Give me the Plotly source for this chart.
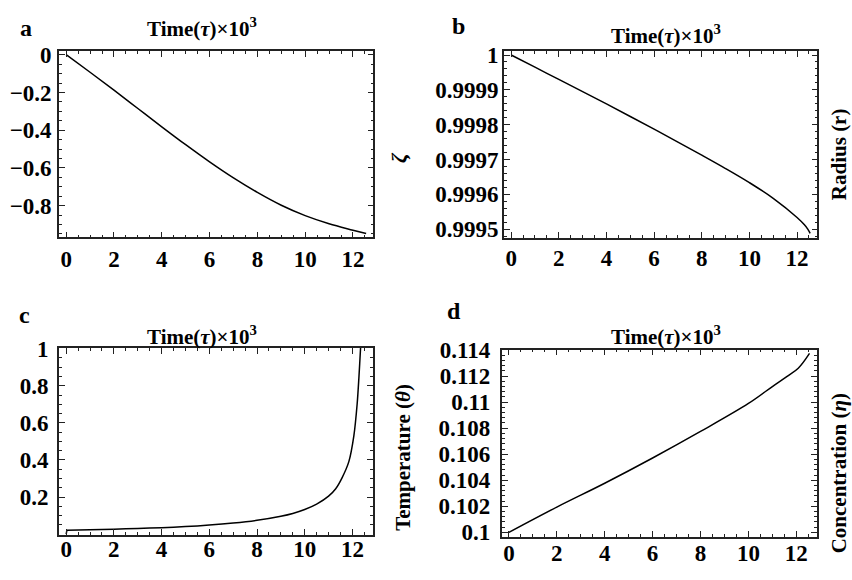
import plotly.graph_objects as go

# ---------------- data ----------------
t_a = [0, 1, 2, 3, 4, 5, 6, 7, 8, 9, 10, 11, 12, 12.55]
zeta = [0.0, -0.093, -0.188, -0.285, -0.382, -0.477, -0.568, -0.653,
        -0.730, -0.798, -0.853, -0.896, -0.930, -0.948]

t_b = [0, 1, 2, 3, 4, 5, 6, 7, 8, 9, 10, 11, 12, 12.3, 12.45, 12.55]
radius = [1.0, 0.999965, 0.99993, 0.999895, 0.9998595, 0.9998235, 0.999787,
          0.99975, 0.9997125, 0.999674, 0.9996335, 0.9995885, 0.9995335,
          0.999513, 0.9995, 0.999488]

t_c = [0, 0.03, 1, 2, 3, 4, 5, 6, 7, 8, 9, 9.5, 10, 10.5, 11, 11.3, 11.57,
       11.85, 12.06, 12.2, 12.27, 12.34, 12.38]
temperature = [0.0, 0.021, 0.024, 0.027, 0.031, 0.035, 0.041, 0.049, 0.060,
               0.075, 0.097, 0.112, 0.133, 0.162, 0.205, 0.245, 0.305, 0.391,
               0.53, 0.704, 0.84, 1.0, 1.1]

t_d = [0, 2, 4, 6, 8, 10, 11, 11.6, 12.08, 12.55]
concentration = [0.1, 0.10194, 0.10377, 0.10571, 0.10775, 0.10990, 0.1112,
                 0.11196, 0.1126, 0.11374]

x_ticks = [0, 2, 4, 6, 8, 10, 12]
a_ticks = [0, -0.2, -0.4, -0.6, -0.8]
a_text = ["0", "\u22120.2", "\u22120.4", "\u22120.6", "\u22120.8"]
b_ticks = [1.0, 0.9999, 0.9998, 0.9997, 0.9996, 0.9995]
b_text = ["1", "0.9999", "0.9998", "0.9997", "0.9996", "0.9995"]
c_ticks = [0.2, 0.4, 0.6, 0.8, 1.0]
c_text = ["0.2", "0.4", "0.6", "0.8", "1"]
d_ticks = [0.1, 0.102, 0.104, 0.106, 0.108, 0.11, 0.112, 0.114]
d_text = ["0.1", "0.102", "0.104", "0.106", "0.108", "0.11", "0.112", "0.114"]

title_text = "Time(<i>\u03c4</i>)\u00d710<sup>3</sup>"

W, H = 852, 580
FONT = "Liberation Serif"
FRAME = "#222222"
TICKSIZE = 23


def px(x):
    return x / W


def py(y):
    return 1 - y / H


def xaxis(dom, anchor, standoff):
    return dict(
        domain=[px(dom[0]), px(dom[1])], anchor=anchor,
        range=[-0.3, 12.85], tickmode="array", tickvals=x_ticks,
        ticktext=[str(v) for v in x_ticks],
        showline=True, linecolor=FRAME, linewidth=1.6, mirror="allticks",
        ticks="inside", ticklen=6, tickwidth=1.3, tickcolor=FRAME,
        minor=dict(tickmode="linear", tick0=0, dtick=0.5, ticks="inside",
                   ticklen=3, tickwidth=1, tickcolor=FRAME),
        showgrid=False, zeroline=False, ticklabelstandoff=standoff,
        tickfont=dict(family=FONT, size=TICKSIZE, weight="bold", color="black"),
    )


def yaxis(dom, anchor, rng, vals, text, mdt, standoff):
    return dict(
        domain=[py(dom[1]), py(dom[0])], anchor=anchor, range=rng,
        tickmode="array", tickvals=vals, ticktext=text,
        showline=True, linecolor=FRAME, linewidth=1.6, mirror="allticks",
        ticks="inside", ticklen=6, tickwidth=1.3, tickcolor=FRAME,
        minor=dict(tickmode="linear", tick0=vals[0], dtick=mdt, ticks="inside",
                   ticklen=3, tickwidth=1, tickcolor=FRAME),
        showgrid=False, zeroline=False, ticklabelstandoff=standoff,
        tickfont=dict(family=FONT, size=TICKSIZE, weight="bold", color="black"),
    )


fig = go.Figure()
line = dict(color="black", width=1.5, shape="spline", smoothing=1.0)
line_c = dict(color="black", width=1.5, shape="spline", smoothing=0.7)
fig.add_trace(go.Scatter(x=t_a, y=zeta, mode="lines", line=line, xaxis="x", yaxis="y"))
fig.add_trace(go.Scatter(x=t_b, y=radius, mode="lines", line=line, xaxis="x2", yaxis="y2"))
# initial jump of the temperature curve (straight), then the smooth curve
fig.add_trace(go.Scatter(x=t_c[:2], y=temperature[:2], mode="lines",
                         line=dict(color="black", width=1.5), xaxis="x3", yaxis="y3"))
fig.add_trace(go.Scatter(x=t_c[1:], y=temperature[1:], mode="lines", line=line_c,
                         xaxis="x3", yaxis="y3"))
fig.add_trace(go.Scatter(x=t_d, y=concentration, mode="lines", line=line, xaxis="x4", yaxis="y4"))

fig.update_layout(
    width=W, height=H, margin=dict(l=0, r=0, t=0, b=0),
    paper_bgcolor="white", plot_bgcolor="white", showlegend=False,
    xaxis=xaxis((59, 373.3), "y", 0),
    yaxis=yaxis((41.3, 234), "x", [-0.968, 0.02], a_ticks, a_text, 0.05, 1),
    xaxis2=xaxis((504, 817.3), "y2", -1),
    yaxis2=yaxis((41.3, 234.3), "x2", [0.9994756, 1.0000117], b_ticks, b_text, 0.00002, -1),
    xaxis3=xaxis((59, 372.7), "y3", -7),
    yaxis3=yaxis((348.3, 541.7), "x3", [-0.004, 1.004], c_ticks, c_text, 0.05, 4),
    xaxis4=xaxis((501.7, 816.7), "y4", -6),
    yaxis4=yaxis((350, 544), "x4", [0.09963, 0.11404], d_ticks, d_text, 0.0004, 5),
)


def ann(text, x, y, size=21, angle=0):
    fig.add_annotation(text=text, x=px(x), y=py(y), xref="paper", yref="paper",
                       xanchor="center", yanchor="middle", showarrow=False,
                       textangle=angle,
                       font=dict(family=FONT, size=size, weight="bold", color="black"))


ann("a", 26, 18, 24)
ann("b", 458, 15, 24)
ann("c", 24, 314, 24)
ann("d", 454, 310, 24)
ann(title_text, 202, 17)
ann(title_text, 666, 24)
ann(title_text, 202, 336)
ann(title_text, 666, 335)
ann("<i>\u03b6</i>", 398, 152, 22, -90)
ann("Radius (r)", 839, 148, 21, -90)
ann("Temperature (<i>\u03b8</i>)", 403, 462, 21, -90)
ann("Concentration (<i>\u03b7</i>)", 839, 478, 21, -90)

fig.write_html("out.html", config={"displayModeBar": False},
               post_script="document.body.style.margin='0';")
